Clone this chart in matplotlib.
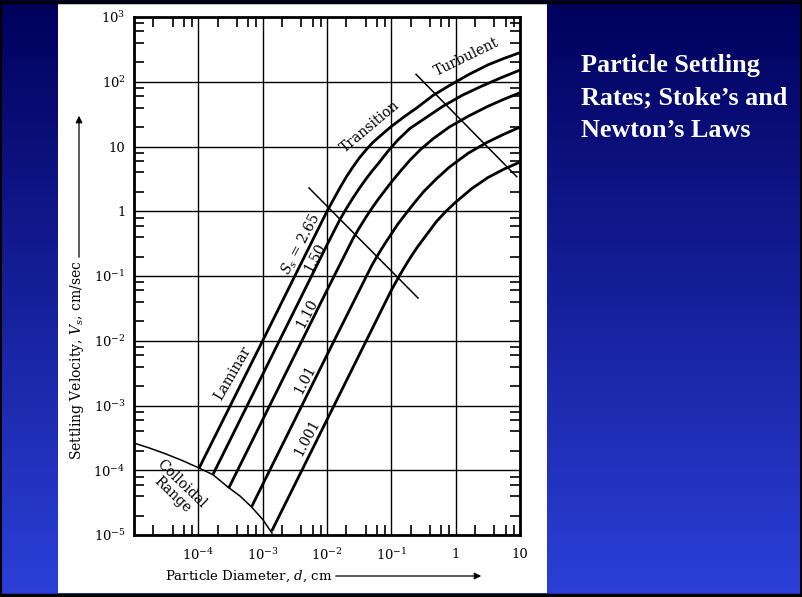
import numpy as np
import matplotlib.pyplot as plt
from matplotlib.patches import Rectangle

W, H = 803, 597

# values, log10 of diameter (cm) and settling velocity (cm/s)
logd_265 = [-3.99, -3.0, -2.0, -1.9, -1.8, -1.7, -1.6, -1.5, -1.4, -1.3, -1.2, -1.0, -0.8, -0.6, -0.35, -0.1, 0.2, 0.5, 0.75, 1.0]
logv_265 = [-3.97, -2.0, 0.0, 0.18, 0.36, 0.53, 0.68, 0.82, 0.94, 1.05, 1.14, 1.31, 1.46, 1.60, 1.79, 1.94, 2.11, 2.26, 2.36, 2.45]

logd_150 = [-3.77, -3.0, -2.0, -1.8, -1.7, -1.6, -1.5, -1.4, -1.3, -1.2, -1.05, -0.9, -0.71, -0.5, -0.2, 0.1, 0.4, 0.7, 1.0]
logv_150 = [-4.06, -2.52, -0.52, -0.13, 0.04, 0.20, 0.35, 0.49, 0.62, 0.74, 0.93, 1.10, 1.28, 1.42, 1.62, 1.79, 1.93, 2.06, 2.18]

logd_110 = [-3.53, -3.0, -2.0, -1.6, -1.5, -1.4, -1.3, -1.2, -1.1, -1.0, -0.85, -0.7, -0.55, -0.35, -0.1, 0.2, 0.5, 0.75, 1.0]
logv_110 = [-4.28, -3.22, -1.22, -0.43, -0.26, -0.10, 0.05, 0.19, 0.32, 0.45, 0.63, 0.80, 0.95, 1.12, 1.30, 1.47, 1.62, 1.73, 1.83]

logd_101 = [-3.17, -2.0, -1.3, -1.2, -1.1, -1.0, -0.9, -0.8, -0.65, -0.5, -0.3, -0.1, 0.2, 0.5, 0.75, 1.0]
logv_101 = [-4.56, -2.22, -0.83, -0.66, -0.50, -0.35, -0.20, -0.07, 0.12, 0.30, 0.50, 0.68, 0.90, 1.07, 1.19, 1.30]

logd_1001 = [-2.86, -2.0, -1.0, -0.9, -0.8, -0.7, -0.6, -0.45, -0.3, -0.15, 0.0, 0.25, 0.5, 0.75, 1.0]
logv_1001 = [-4.94, -3.22, -1.22, -1.04, -0.87, -0.71, -0.56, -0.36, -0.16, 0.0, 0.14, 0.35, 0.52, 0.65, 0.76]

logd_colloid = [-5.0, -4.75, -4.5, -4.25, -4.0, -3.77, -3.54, -3.35, -3.17, -3.0, -2.855]
logv_colloid = [-3.58, -3.66, -3.75, -3.85, -3.96, -4.07, -4.26, -4.40, -4.57, -4.76, -4.97]

# regime boundaries
logd_lam_tr = [-2.28, -0.585]
logv_lam_tr = [0.36, -1.34]
logd_tr_turb = [-0.616, 0.949]
logv_tr_turb = [2.115, 0.534]

curves = [(logd_265, logv_265), (logd_150, logv_150), (logd_110, logv_110),
          (logd_101, logv_101), (logd_1001, logv_1001)]

title_lines = ["Particle Settling", "Rates; Stoke’s and", "Newton’s Laws"]

plt.rcParams['font.family'] = 'DejaVu Serif'
plt.rcParams['mathtext.fontset'] = 'dejavuserif'

fig = plt.figure(figsize=(W / 100, H / 100), dpi=100)

# slide background in pixel coords
bg = fig.add_axes([0, 0, 1, 1], zorder=-5)
grad = np.linspace(0, 1, 256).reshape(-1, 1)
top = np.array([0.0, 0.0, 0.36])
bot = np.array([0.17, 0.25, 0.85])
img = top + grad[..., None] * (bot - top)
bg.imshow(img, extent=[0, W, H, 0], aspect='auto')
bg.set_xlim(0, W)
bg.set_ylim(H, 0)
bg.axis('off')
bg.add_patch(Rectangle((58, 3), 489, 590, facecolor='white', edgecolor='none'))
bg.plot([0, W], [1.5, 1.5], color='black', lw=2.5)
bg.plot([0, W], [594.5, 594.5], color='black', lw=2.5)
bg.plot([1, 1], [0, H], color='black', lw=1.5)
bg.plot([801.5, 801.5], [0, H], color='black', lw=2)

for i, line in enumerate(title_lines):
    bg.text(581, 72 + 32.5 * i, line, color='white', fontsize=18.8, fontweight='bold',
            family='Liberation Serif', va='baseline', ha='left')

# axis labels with arrows
bg.text(77, 360, 'Settling Velocity, $V_s$, cm/sec', rotation=90, ha='center', va='center', fontsize=10)
bg.annotate('', xy=(79, 113), xytext=(79, 260),
            arrowprops=dict(arrowstyle='-|>', color='black', lw=0.9, mutation_scale=10))
bg.text(249, 576, 'Particle Diameter, $d$, cm', ha='center', va='center', fontsize=9.6)
bg.annotate('', xy=(484, 576), xytext=(333, 576),
            arrowprops=dict(arrowstyle='-|>', color='black', lw=0.9, mutation_scale=10))

ax = fig.add_axes([134 / W, 1 - 535 / H, (520 - 134) / W, (535 - 17) / H])
ax.set_xscale('log')
ax.set_yscale('log')
ax.set_xlim(1e-5, 10)
ax.set_ylim(1e-5, 1e3)

for ld, lv in curves:
    ax.plot(10 ** np.array(ld), 10 ** np.array(lv), color='black', lw=2.0, solid_capstyle='butt')
ax.plot(10 ** np.array(logd_colloid), 10 ** np.array(logv_colloid), color='black', lw=1.1)
ax.plot(10 ** np.array(logd_lam_tr), 10 ** np.array(logv_lam_tr), color='black', lw=1.1)
ax.plot(10 ** np.array(logd_tr_turb), 10 ** np.array(logv_tr_turb), color='black', lw=1.1)

xt = [1e-5, 1e-4, 1e-3, 1e-2, 1e-1, 1, 10]
xl = ['', '$10^{-4}$', '$10^{-3}$', '$10^{-2}$', '$10^{-1}$', '1', '10']
yt = [1e-5, 1e-4, 1e-3, 1e-2, 1e-1, 1, 10, 1e2, 1e3]
yl = ['$10^{-5}$', '$10^{-4}$', '$10^{-3}$', '$10^{-2}$', '$10^{-1}$', '1', '10', '$10^{2}$', '$10^{3}$']
ax.set_xticks(xt)
ax.set_xticklabels(xl)
ax.set_yticks(yt)
ax.set_yticklabels(yl)
ax.xaxis.set_minor_locator(plt.LogLocator(base=10, subs=(2, 4, 6, 8)))
ax.yaxis.set_minor_locator(plt.LogLocator(base=10, subs=(2, 4, 6, 8)))
ax.xaxis.set_minor_formatter(plt.NullFormatter())
ax.yaxis.set_minor_formatter(plt.NullFormatter())
ax.tick_params(which='major', length=0, labelsize=9.5, pad=9)
ax.tick_params(axis='y', which='major', pad=6)
ax.tick_params(which='minor', direction='in', length=7, width=1.2, top=True, right=True)
ax.grid(True, which='major', color='black', lw=1.0)
for s in ax.spines.values():
    s.set_linewidth(2.0)

# annotations
fs = 10
ax.text(10 ** 0.176, 10 ** 2.382, 'Turbulent', rotation=26, ha='center', va='center', fontsize=fs)
ax.text(10 ** -1.331, 10 ** 1.301, 'Transition', rotation=40, ha='center', va='center', fontsize=fs)
ax.text(10 ** -2.404, 10 ** -0.506, '$S_s$ = 2.65', rotation=62, ha='center', va='center', fontsize=fs)
ax.text(10 ** -2.186, 10 ** -0.722, '1.50', rotation=62, ha='center', va='center', fontsize=fs)
ax.text(10 ** -2.316, 10 ** -1.576, '1.10', rotation=62, ha='center', va='center', fontsize=fs)
ax.text(10 ** -2.342, 10 ** -2.606, '1.01', rotation=62, ha='center', va='center', fontsize=fs)
ax.text(10 ** -2.311, 10 ** -3.502, '1.001', rotation=62, ha='center', va='center', fontsize=fs)
ax.text(10 ** -3.461, 10 ** -2.498, 'Laminar', rotation=60, ha='center', va='center', fontsize=fs)
ax.text(10 ** -4.259, 10 ** -4.212, 'Colloidal', rotation=-44, ha='center', va='center', fontsize=fs)
ax.text(10 ** -4.405, 10 ** -4.382, 'Range', rotation=-44, ha='center', va='center', fontsize=fs)

fig.savefig('out.png', dpi=100)
